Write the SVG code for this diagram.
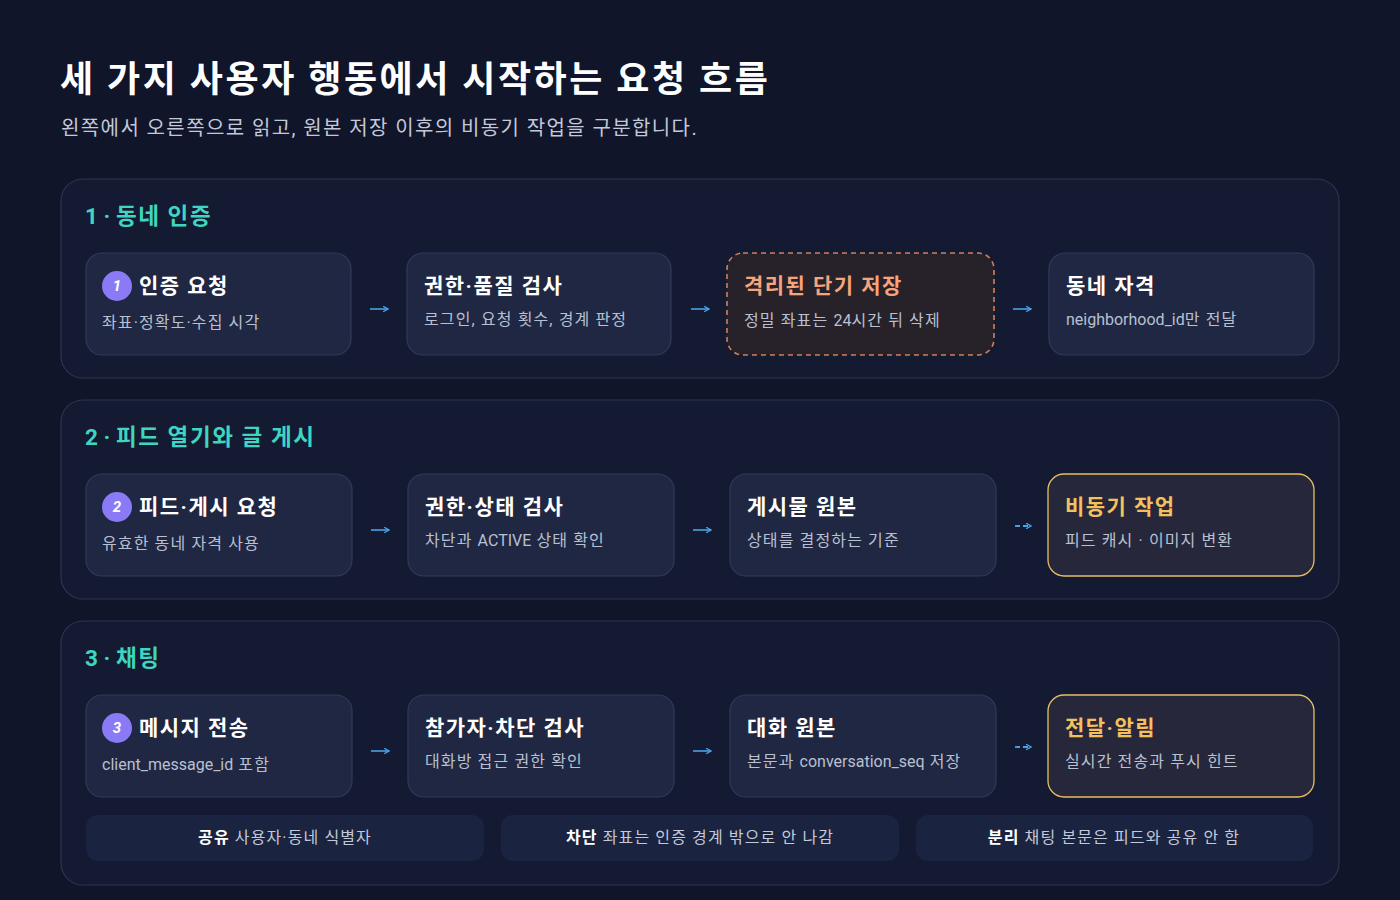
<svg xmlns="http://www.w3.org/2000/svg" width="1400" height="900" viewBox="0 0 1400 900">
<defs>
<style>
text{font-family:Roboto,"Noto Sans CJK KR",sans-serif;letter-spacing:0.07em}
.lat{letter-spacing:0}
.title{font-size:36px;font-weight:700;fill:#ffffff}
.sub{font-size:20px;fill:#c3c9d9}
.sec{fill:#141a31;stroke:#2b3452;stroke-width:1.2}
.sect{font-size:22.5px;font-weight:700;fill:#3fd6c1}
.node{fill:#1f2742;stroke:#303a5a;stroke-width:1.2}
.nt{font-size:21px;font-weight:700;fill:#ffffff}
.ns{font-size:16px;fill:#b9c0d2}
.warn{fill:#272129;stroke:#d0805a;stroke-width:1.6;stroke-dasharray:5 4}
.wt{font-size:21px;font-weight:700;fill:#f6a47c}
.async{fill:#26273b;stroke:#e8bf62;stroke-width:1.3}
.at{font-size:21px;font-weight:700;fill:#f4c15c}
.badge{fill:#8a7af5}
.bt{font-size:15px;font-weight:700;font-style:italic;fill:#ffffff;text-anchor:middle;letter-spacing:0}
.arr{stroke:#4aa3e8;stroke-width:1.6;fill:none}
.arrd{stroke:#4aa3e8;stroke-width:1.8;fill:none;stroke-dasharray:5 3}
.foot{fill:#1a2340}
.ft{font-size:16px;fill:#c3c9d9;text-anchor:middle}
.fb{font-weight:700;fill:#ffffff}
</style>
<marker id="ah" viewBox="0 0 10 10" refX="9" refY="5" markerWidth="7" markerHeight="7" orient="auto" markerUnits="userSpaceOnUse">
<path d="M2 1 L9 5 L2 9" fill="none" stroke="#4aa3e8" stroke-width="1.8"/>
</marker>
</defs>
<rect width="1400" height="900" fill="#10152a"/>
<g id="header">
<text class="title" x="60" y="92">세 가지 사용자 행동에서 시작하는 요청 흐름</text>
<text class="sub" x="61" y="135">왼쪽에서 오른쪽으로 읽고, 원본 저장 이후의 비동기 작업을 구분합니다.</text>
</g>
<g id="section1">
<rect class="sec" x="61" y="179" width="1278" height="199" rx="22"/>
<text class="sect" x="85" y="224"><tspan class="lat">1 · </tspan>동네 인증</text>
</g>
<g id="section2">
<rect class="sec" x="61" y="400" width="1278" height="199" rx="22"/>
<text class="sect" x="85" y="445"><tspan class="lat">2 · </tspan>피드 열기와 글 게시</text>
</g>
<g id="section3">
<rect class="sec" x="61" y="621" width="1278" height="264" rx="22"/>
<text class="sect" x="85" y="666"><tspan class="lat">3 · </tspan>채팅</text>
</g>
<g id="n1a">
<rect class="node" x="86" y="253" width="265" height="102" rx="16"/>
<circle class="badge" cx="117" cy="286" r="15"/>
<text class="bt" x="117" y="291">1</text>
<text class="nt" x="139" y="293">인증 요청</text>
<text class="ns" x="102" y="328">좌표·정확도·수집 시각</text>
</g>
<g id="n1b">
<rect class="node" x="407" y="253" width="264" height="102" rx="16"/>
<text class="nt" x="424" y="293">권한·품질 검사</text>
<text class="ns" x="424" y="325">로그인, 요청 횟수, 경계 판정</text>
</g>
<g id="n1c">
<rect class="warn" x="727" y="253" width="267" height="102" rx="16"/>
<text class="wt" x="744" y="293">격리된 단기 저장</text>
<text class="ns" x="744" y="326">정밀 좌표는 <tspan class="lat">24</tspan>시간 뒤 삭제</text>
</g>
<g id="n1d">
<rect class="node" x="1049" y="253" width="265" height="102" rx="16"/>
<text class="nt" x="1066" y="293">동네 자격</text>
<text class="ns" x="1066" y="325"><tspan class="lat">neighborhood_id</tspan>만 전달</text>
</g>
<g id="n2a">
<rect class="node" x="86" y="474" width="266" height="102" rx="16"/>
<circle class="badge" cx="117" cy="507" r="15"/>
<text class="bt" x="117" y="512">2</text>
<text class="nt" x="139" y="514">피드·게시 요청</text>
<text class="ns" x="102" y="549">유효한 동네 자격 사용</text>
</g>
<g id="n2b">
<rect class="node" x="408" y="474" width="266" height="102" rx="16"/>
<text class="nt" x="425" y="514">권한·상태 검사</text>
<text class="ns" x="425" y="546">차단과 <tspan class="lat">ACTIVE</tspan> 상태 확인</text>
</g>
<g id="n2c">
<rect class="node" x="730" y="474" width="266" height="102" rx="16"/>
<text class="nt" x="747" y="514">게시물 원본</text>
<text class="ns" x="747" y="546">상태를 결정하는 기준</text>
</g>
<g id="n2d">
<rect class="async" x="1048" y="474" width="266" height="102" rx="16"/>
<text class="at" x="1065" y="514">비동기 작업</text>
<text class="ns" x="1065" y="546">피드 캐시 · 이미지 변환</text>
</g>
<g id="n3a">
<rect class="node" x="86" y="695" width="266" height="102" rx="16"/>
<circle class="badge" cx="117" cy="728" r="15"/>
<text class="bt" x="117" y="733">3</text>
<text class="nt" x="139" y="735">메시지 전송</text>
<text class="ns" x="102" y="770"><tspan class="lat">client_message_id</tspan> 포함</text>
</g>
<g id="n3b">
<rect class="node" x="408" y="695" width="266" height="102" rx="16"/>
<text class="nt" x="425" y="735">참가자·차단 검사</text>
<text class="ns" x="425" y="767">대화방 접근 권한 확인</text>
</g>
<g id="n3c">
<rect class="node" x="730" y="695" width="266" height="102" rx="16"/>
<text class="nt" x="747" y="735">대화 원본</text>
<text class="ns" x="747" y="767">본문과 <tspan class="lat">conversation_seq</tspan> 저장</text>
</g>
<g id="n3d">
<rect class="async" x="1048" y="695" width="266" height="102" rx="16"/>
<text class="at" x="1065" y="735">전달·알림</text>
<text class="ns" x="1065" y="767">실시간 전송과 푸시 힌트</text>
</g>
<g id="connectors">
<line class="arr" x1="370" y1="309" x2="388" y2="309" marker-end="url(#ah)"/>
<line class="arr" x1="691" y1="309" x2="709" y2="309" marker-end="url(#ah)"/>
<line class="arr" x1="1013" y1="309" x2="1031" y2="309" marker-end="url(#ah)"/>
<line class="arr" x1="371" y1="530" x2="389" y2="530" marker-end="url(#ah)"/>
<line class="arr" x1="693" y1="530" x2="711" y2="530" marker-end="url(#ah)"/>
<line class="arrd" x1="1015" y1="526" x2="1031" y2="526" marker-end="url(#ah)"/>
<line class="arr" x1="371" y1="751" x2="389" y2="751" marker-end="url(#ah)"/>
<line class="arr" x1="693" y1="751" x2="711" y2="751" marker-end="url(#ah)"/>
<line class="arrd" x1="1015" y1="747" x2="1031" y2="747" marker-end="url(#ah)"/>
</g>
<g id="notes">
<rect class="foot" x="86" y="815" width="398" height="46" rx="12"/>
<text class="ft" x="285" y="843"><tspan class="fb">공유</tspan> 사용자·동네 식별자</text>
<rect class="foot" x="501" y="815" width="398" height="46" rx="12"/>
<text class="ft" x="700" y="843"><tspan class="fb">차단</tspan> 좌표는 인증 경계 밖으로 안 나감</text>
<rect class="foot" x="916" y="815" width="397" height="46" rx="12"/>
<text class="ft" x="1114" y="843"><tspan class="fb">분리</tspan> 채팅 본문은 피드와 공유 안 함</text>
</g>
</svg>
